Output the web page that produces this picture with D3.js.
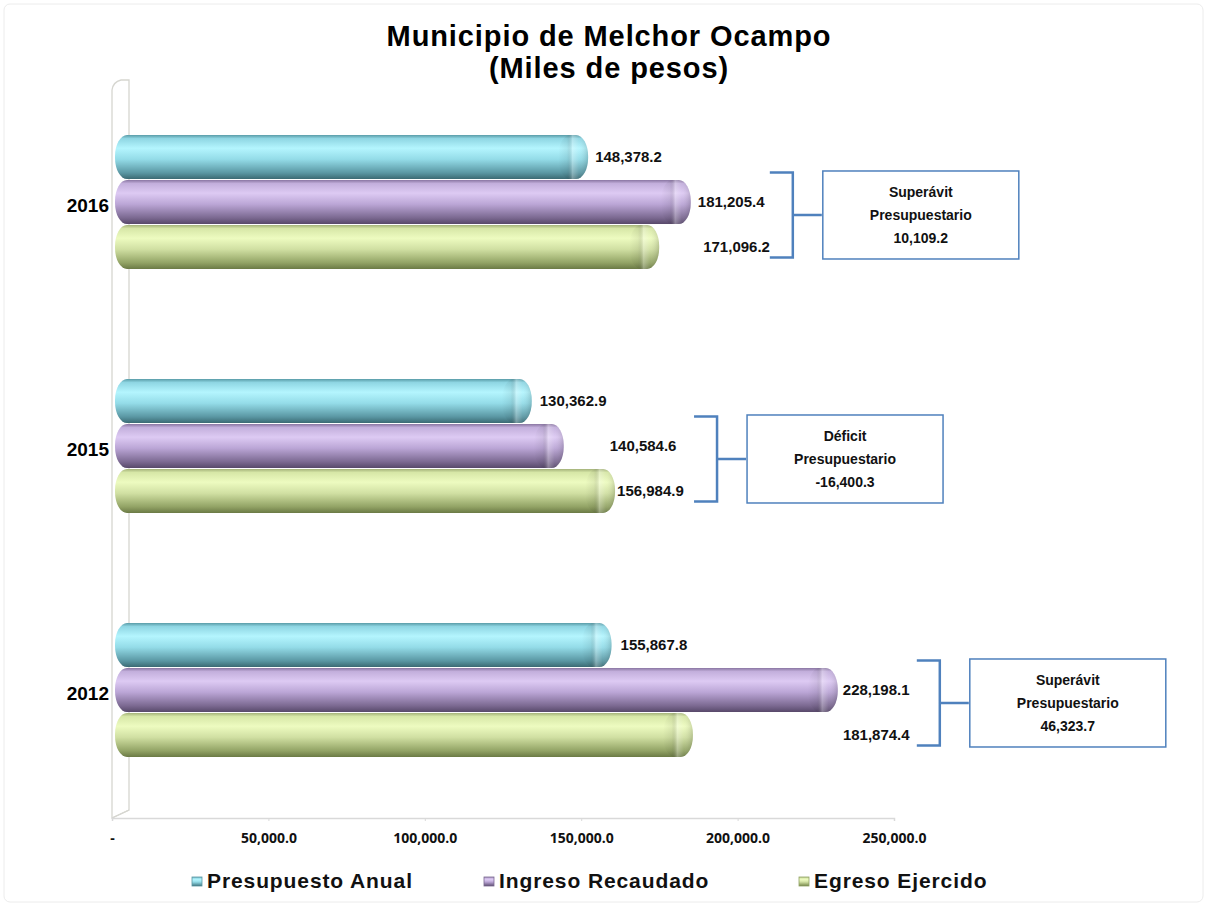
<!DOCTYPE html>
<html>
<head>
<meta charset="utf-8">
<script src="https://cdn.jsdelivr.net/npm/d3@7"></script>
<style>
  body { margin: 0; background: #fff; }
  text { font-family: "Liberation Sans", Arial, sans-serif; }
</style>
</head>
<body>
<div id="chart"></div>
<script>
// chart values
var years = ["2016", "2015", "2012"];
var seriesNames = ["Presupuesto Anual", "Ingreso Recaudado", "Egreso Ejercido"];
var presupuesto = [148378.2, 130362.9, 155867.8];
var ingreso = [181205.4, 140584.6, 228198.1];
var egreso = [171096.2, 156984.9, 181874.4];
var xTicks = [0, 50000, 100000, 150000, 200000, 250000];

// manual label nudges (px) per year, per series, like the hand placed labels of the original
var labelNudge = [[0, 0, 37], [1, 39, -5], [2, -2, 143]];

// plain hyphen for negatives, like the original
var fmt = d3.formatLocale({decimal: ".", thousands: ",", grouping: [3], currency: ["$", ""], minus: "-"}).format(",.1f");

var W = 1207, H = 906;
var svg = d3.select("#chart").append("svg")
    .attr("width", W)
    .attr("height", H);

var defs = svg.append("defs");

// cylinder shading, one gradient per series
var shades = [
  ["#5a9ca8", "#8fd6e3", "#b4f5fe", "#94dce8", "#5a97a3", "#3b6a73"],
  ["#8a76a2", "#c3afdc", "#ddcaf3", "#bba6d6", "#7b6991", "#58496a"],
  ["#a3b179", "#d7e7a7", "#edfbc0", "#d1e0a3", "#92a365", "#6b7a45"]
];
var stopAt = [0, 0.08, 0.3, 0.55, 0.86, 1];
shades.forEach(function(s, i) {
  var g = defs.append("linearGradient").attr("id", "cyl" + i)
    .attr("x1", 0).attr("y1", 0).attr("x2", 0).attr("y2", 1);
  s.forEach(function(c, k) {
    g.append("stop").attr("offset", stopAt[k]).attr("stop-color", c);
  });
});
var cap = defs.append("linearGradient").attr("id", "cap")
  .attr("x1", 0).attr("y1", 0).attr("x2", 1).attr("y2", 0);
cap.append("stop").attr("offset", 0).attr("stop-color", "#000").attr("stop-opacity", 0);
cap.append("stop").attr("offset", 0.3).attr("stop-color", "#000").attr("stop-opacity", 0.06);
cap.append("stop").attr("offset", 0.48).attr("stop-color", "#fff").attr("stop-opacity", 0.3);
cap.append("stop").attr("offset", 0.7).attr("stop-color", "#fff").attr("stop-opacity", 0.05);
cap.append("stop").attr("offset", 1).attr("stop-color", "#000").attr("stop-opacity", 0.15);

// faint outer frame
svg.append("rect")
  .attr("x", 4).attr("y", 4).attr("width", W - 8).attr("height", H - 8)
  .attr("rx", 6)
  .attr("fill", "none").attr("stroke", "#ececec");

// title
svg.append("text")
  .attr("x", 609).attr("y", 46)
  .attr("text-anchor", "middle")
  .attr("font-size", "29px").attr("font-weight", "bold")
  .attr("letter-spacing", "0.9px")
  .text("Municipio de Melchor Ocampo");
svg.append("text")
  .attr("x", 609).attr("y", 78)
  .attr("text-anchor", "middle")
  .attr("font-size", "29px").attr("font-weight", "bold")
  .attr("letter-spacing", "0.9px")
  .text("(Miles de pesos)");

// scales
var x = d3.scaleLinear()
  .domain([0, 250000])
  .range([112, 894]);

var y = d3.scaleBand()
  .domain(years)
  .range([80, 812])
  .paddingInner(0.447)
  .paddingOuter(0.2235);

var ySub = d3.scaleBand()
  .domain(d3.range(seriesNames.length))
  .range([0, y.bandwidth()]);

var depth = 12; // 3d offset of the bars in front of the wall

// back wall and floor
var wall = svg.append("g").attr("fill", "none").attr("stroke", "#d6d6d0").attr("stroke-width", 1.3);
wall.append("path").attr("d", "M112,818 L112,90 Q113,82 121,80 L129,80 L129,810 Z");
wall.append("line").attr("x1", 112).attr("y1", 818).attr("x2", 129).attr("y2", 810);

// x axis
var xAxis = d3.axisBottom(x)
  .tickValues(xTicks)
  .tickSize(3)
  .tickFormat(function(d) { return d === 0 ? "-" : fmt(d); });
var gx = svg.append("g")
  .attr("transform", "translate(0,818)")
  .call(xAxis);
gx.select(".domain").attr("stroke", "#d9d9d9").attr("stroke-width", 1.5);
gx.selectAll(".tick line").attr("stroke", "#d9d9d9");
gx.selectAll(".tick text")
  .attr("y", 15)
  .attr("fill", "#111")
  .style("font-family", "'Open Sans', sans-serif")
  .attr("font-size", "14px")
  .attr("font-weight", "bold");

// year labels
svg.selectAll(".year")
  .data(years)
  .enter().append("text")
  .attr("class", "year")
  .attr("x", 109)
  .attr("y", function(d) { return y(d) + y.bandwidth() / 2 + 10; })
  .attr("text-anchor", "end")
  .attr("font-size", "19px").attr("font-weight", "bold")
  .text(function(d) { return d; });

// flatten rows for bars
var rows = [];
years.forEach(function(yr, i) {
  [presupuesto[i], ingreso[i], egreso[i]].forEach(function(v, s) {
    rows.push({year: yr, yi: i, s: s, value: v});
  });
});

var barX0 = x(0) + 3;
function barEnd(v) { return x(v) + depth; }

var bars = svg.selectAll(".bar")
  .data(rows)
  .enter().append("g")
  .attr("class", "bar")
  .attr("transform", function(d) { return "translate(0," + (y(d.year) + ySub(d.s)) + ")"; });

bars.append("rect")
  .attr("x", barX0)
  .attr("y", 0.5)
  .attr("width", function(d) { return barEnd(d.value) - barX0; })
  .attr("height", ySub.bandwidth() - 1)
  .attr("rx", 12).attr("ry", 21)
  .attr("fill", function(d) { return "url(#cyl" + d.s + ")"; });

bars.append("rect")
  .attr("x", function(d) { return barEnd(d.value) - 30; })
  .attr("y", 0.5)
  .attr("width", 30)
  .attr("height", ySub.bandwidth() - 1)
  .attr("rx", 12).attr("ry", 21)
  .attr("fill", "url(#cap)");

// value labels
bars.append("text")
  .attr("x", function(d) { return barEnd(d.value) + 7 + labelNudge[d.yi][d.s]; })
  .attr("y", ySub.bandwidth() / 2 + 5)
  .attr("font-size", "15px").attr("font-weight", "bold")
  .attr("fill", "#111")
  .text(function(d) { return fmt(d.value); });

// brackets and balance boxes
var blue = "#4f81bd";
years.forEach(function(yr, i) {
  var top = y(yr) + ySub(1) - 7;
  var bot = y(yr) + ySub(2) + ySub.bandwidth() - 12;
  var mid = (top + bot) / 2;
  var bx = barEnd(d3.max([presupuesto[i], ingreso[i], egreso[i]])) + 102;
  var g = svg.append("g");
  g.append("path")
    .attr("d", "M" + (bx - 23) + "," + top + " H" + bx + " V" + bot + " H" + (bx - 23) +
               " M" + bx + "," + mid + " H" + (bx + 29))
    .attr("fill", "none").attr("stroke", blue).attr("stroke-width", 2.5);
  g.append("rect")
    .attr("x", bx + 30).attr("y", mid - 44)
    .attr("width", 196).attr("height", 88)
    .attr("fill", "#fff").attr("stroke", blue).attr("stroke-width", 1.5);
  var bal = ingreso[i] - egreso[i];
  var lines = [bal >= 0 ? "Superávit" : "Déficit", "Presupuestario", fmt(bal)];
  g.selectAll("text").data(lines).enter().append("text")
    .attr("x", bx + 128)
    .attr("y", function(d, k) { return mid - 18 + k * 23; })
    .attr("text-anchor", "middle")
    .attr("font-size", "14px").attr("font-weight", "bold")
    .attr("fill", "#111")
    .text(function(d) { return d; });
});

// legend
var legendX = [192, 484, 799];
var legend = svg.selectAll(".legend")
  .data(seriesNames)
  .enter().append("g")
  .attr("class", "legend")
  .attr("transform", function(d, i) { return "translate(" + legendX[i] + ",0)"; });
legend.append("rect")
  .attr("x", 0).attr("y", 877)
  .attr("width", 10).attr("height", 9)
  .attr("fill", function(d, i) { return "url(#cyl" + i + ")"; })
  .attr("stroke", function(d, i) { return shades[i][4]; })
  .attr("stroke-width", 0.8);
legend.append("text")
  .attr("x", 15).attr("y", 888)
  .attr("font-size", "21px").attr("font-weight", "bold")
  .attr("letter-spacing", "0.9px")
  .attr("fill", "#111")
  .text(function(d) { return d; });
</script>
</body>
</html>
